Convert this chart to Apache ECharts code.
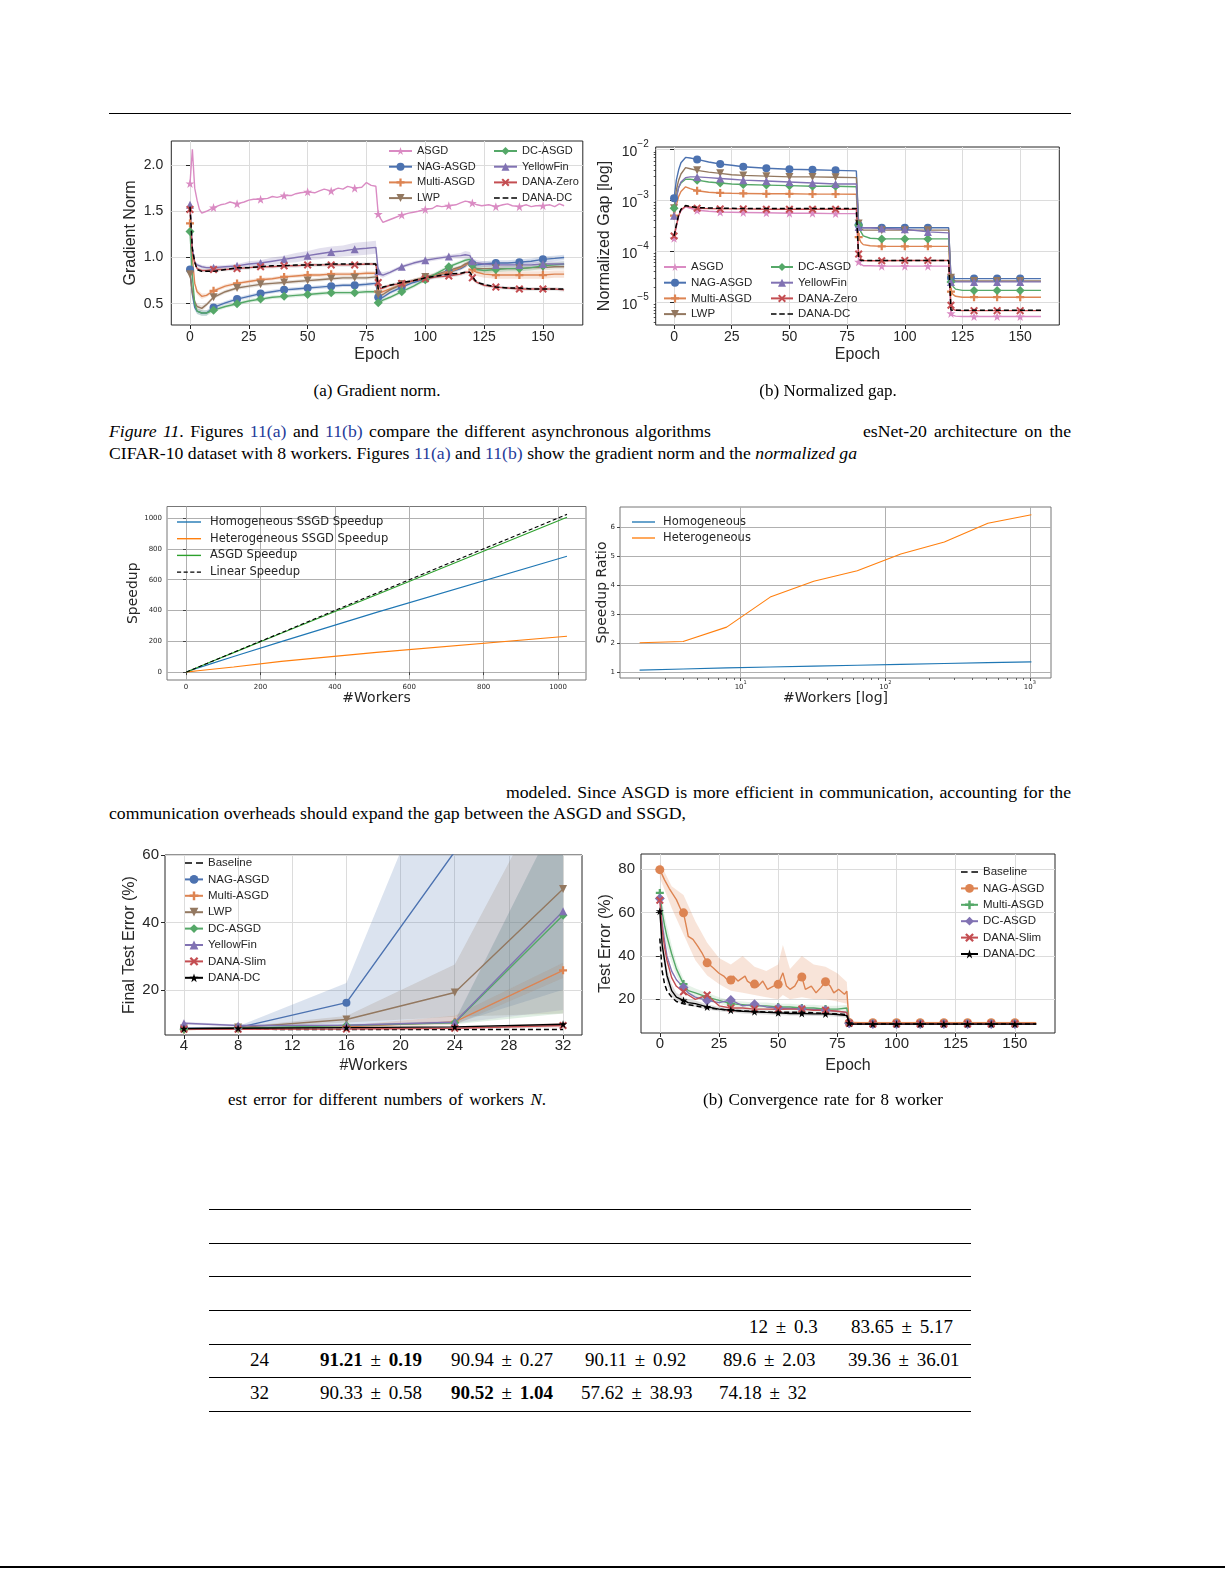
<!DOCTYPE html>
<html>
<head>
<meta charset="utf-8">
<title>Figure page</title>
<script src="https://cdn.jsdelivr.net/npm/echarts@6.0.0/dist/echarts.min.js"></script>
<style>
  html,body{margin:0;padding:0;background:#fff;}
  body{position:relative;width:1225px;height:1585px;overflow:hidden;font-family:"Liberation Serif","Times New Roman",serif;color:#000;}
  .t{position:absolute;font-size:17px;line-height:20px;white-space:nowrap;}
  .b{font-size:17.7px;}
  .j{text-align:justify;text-align-last:justify;}
  .ctr{transform:translateX(-50%);}
  .lnk{color:#1f3b9a;}
  .rule{position:absolute;background:#000;}
  .ch{position:absolute;}
  .tb{position:absolute;font-size:19px;line-height:22px;white-space:nowrap;}
  .pm{padding:0 3px;}
</style>
</head>
<body>
<div class="rule" style="left:109px;top:113px;width:962px;height:1px"></div>

<div id="cA" class="ch" style="left:100px;top:130px;width:500px;height:245px"></div>
<div id="cB" class="ch" style="left:590px;top:130px;width:490px;height:245px"></div>

<div class="t ctr" style="left:377px;top:381px;">(a) Gradient norm.</div>
<div class="t ctr" style="left:828px;top:381px;">(b) Normalized gap.</div>

<div class="t b j" style="left:109px;top:421px;width:602px;"><i>Figure 11</i>. Figures <span class="lnk">11(a)</span> and <span class="lnk">11(b)</span> compare the different asynchronous algorithms</div>
<div class="t b j" style="left:863px;top:421px;width:208px;">esNet-20 architecture on the</div>
<div class="t b j" style="left:109px;top:443px;width:748px;">CIFAR-10 dataset with 8 workers. Figures <span class="lnk">11(a)</span> and <span class="lnk">11(b)</span> show the gradient norm and the <i>normalized ga</i></div>

<div id="cC" class="ch" style="left:110px;top:500px;width:480px;height:215px"></div>
<div id="cD" class="ch" style="left:590px;top:500px;width:480px;height:215px"></div>

<div class="t b j" style="left:506px;top:782px;width:565px;">modeled. Since ASGD is more efficient in communication, accounting for the</div>
<div class="t b j" style="left:109px;top:803px;width:577px;">communication overheads should expand the gap between the ASGD and SSGD,</div>

<div id="cE" class="ch" style="left:100px;top:840px;width:500px;height:245px"></div>
<div id="cF" class="ch" style="left:590px;top:840px;width:490px;height:245px"></div>

<div class="t j" style="left:228px;top:1090px;width:318px;">est error for different numbers of workers <i>N</i>.</div>
<div class="t j" style="left:703px;top:1090px;width:240px;">(b) Convergence rate for 8 worker</div>

<div class="rule" style="left:209px;top:1209px;width:762px;height:1px"></div>
<div class="rule" style="left:209px;top:1243px;width:762px;height:1px"></div>
<div class="rule" style="left:209px;top:1276px;width:762px;height:1px"></div>
<div class="rule" style="left:209px;top:1310px;width:762px;height:1px"></div>
<div class="rule" style="left:209px;top:1344px;width:762px;height:1px"></div>
<div class="rule" style="left:209px;top:1377px;width:762px;height:1px"></div>
<div class="rule" style="left:209px;top:1411px;width:762px;height:1px"></div>

<div class="tb" style="left:749px;top:1316px;">12 <span class="pm">±</span> 0.3</div>
<div class="tb" style="left:851px;top:1316px;">83.65 <span class="pm">±</span> 5.17</div>

<div class="tb" style="left:250px;top:1349px;">24</div>
<div class="tb" style="left:320px;top:1349px;"><b>91.21</b> <span class="pm">±</span> <b>0.19</b></div>
<div class="tb" style="left:451px;top:1349px;">90.94 <span class="pm">±</span> 0.27</div>
<div class="tb" style="left:585px;top:1349px;">90.11 <span class="pm">±</span> 0.92</div>
<div class="tb" style="left:723px;top:1349px;">89.6 <span class="pm">±</span> 2.03</div>
<div class="tb" style="left:848px;top:1349px;">39.36 <span class="pm">±</span> 36.01</div>

<div class="tb" style="left:250px;top:1382px;">32</div>
<div class="tb" style="left:320px;top:1382px;">90.33 <span class="pm">±</span> 0.58</div>
<div class="tb" style="left:451px;top:1382px;"><b>90.52</b> <span class="pm">±</span> <b>1.04</b></div>
<div class="tb" style="left:581px;top:1382px;">57.62 <span class="pm">±</span> 38.93</div>
<div class="tb" style="left:719px;top:1382px;">74.18 <span class="pm">±</span> 32</div>

<div class="rule" style="left:0px;top:1566px;width:1225px;height:2px"></div>

<script>
// ================= DATA =================
// ---- (a) Gradient norm ----
const EPOCH_TICKS = [0, 25, 50, 75, 100, 125, 150];
const GN_TICKS = [0.5, 1.0, 1.5, 2.0];
const EP_A = [0,1,2,3,5,7,10,15,20,25,30,35,40,45,50,55,60,65,70,75,79,80,81,82,85,90,95,100,105,110,115,117,119,120,121,122,125,130,135,140,145,150,155,159];
const NAG_A = [0.87,0.60,0.46,0.42,0.40,0.40,0.46,0.51,0.55,0.58,0.61,0.63,0.65,0.66,0.67,0.68,0.69,0.70,0.70,0.71,0.72,0.57,0.56,0.57,0.62,0.68,0.73,0.77,0.80,0.84,0.88,0.91,0.96,0.93,0.92,0.92,0.93,0.94,0.94,0.95,0.96,0.98,0.99,1.00];
const MULTI_A = [1.37,1.00,0.72,0.63,0.58,0.59,0.64,0.69,0.72,0.74,0.76,0.77,0.79,0.80,0.81,0.81,0.82,0.82,0.82,0.83,0.83,0.63,0.62,0.63,0.66,0.71,0.75,0.78,0.81,0.84,0.89,0.92,0.94,0.87,0.85,0.84,0.82,0.81,0.81,0.81,0.81,0.81,0.82,0.82];
const LWP_A = [0.82,0.62,0.52,0.47,0.45,0.49,0.57,0.63,0.67,0.69,0.71,0.72,0.73,0.74,0.75,0.76,0.77,0.78,0.78,0.78,0.79,0.60,0.59,0.60,0.65,0.71,0.75,0.79,0.82,0.86,0.90,0.93,0.95,0.90,0.89,0.88,0.88,0.88,0.88,0.88,0.89,0.89,0.90,0.90];
const DC_A = [1.28,0.80,0.50,0.42,0.40,0.40,0.43,0.47,0.50,0.53,0.55,0.57,0.58,0.59,0.60,0.61,0.62,0.62,0.62,0.63,0.63,0.51,0.52,0.54,0.57,0.63,0.69,0.76,0.83,0.90,0.95,0.97,0.98,0.92,0.89,0.87,0.86,0.87,0.88,0.88,0.89,0.91,0.92,0.93];
const YF_A = [1.57,1.10,0.95,0.92,0.90,0.89,0.89,0.90,0.91,0.93,0.94,0.96,0.98,1.00,1.02,1.04,1.06,1.07,1.09,1.10,1.11,0.85,0.82,0.81,0.84,0.90,0.94,0.97,0.99,1.01,1.02,1.03,1.02,0.96,0.95,0.94,0.93,0.92,0.92,0.92,0.92,0.93,0.93,0.93];
const DANAZ_A = [1.52,1.05,0.95,0.88,0.86,0.86,0.87,0.87,0.88,0.89,0.90,0.90,0.91,0.91,0.92,0.92,0.92,0.92,0.92,0.93,0.93,0.73,0.66,0.67,0.70,0.72,0.75,0.77,0.79,0.80,0.82,0.84,0.84,0.78,0.75,0.73,0.70,0.68,0.67,0.66,0.66,0.66,0.66,0.65];
const DANADC_A = [1.55,1.10,0.95,0.87,0.85,0.85,0.85,0.87,0.89,0.89,0.90,0.91,0.91,0.92,0.92,0.92,0.93,0.93,0.93,0.93,0.93,0.66,0.67,0.68,0.70,0.73,0.75,0.78,0.80,0.82,0.83,0.84,0.84,0.80,0.76,0.73,0.71,0.68,0.67,0.67,0.66,0.66,0.66,0.66];
const YF_A_HW = [0.03,0.03,0.02,0.02,0.02,0.02,0.02,0.02,0.02,0.03,0.03,0.04,0.04,0.05,0.05,0.06,0.06,0.06,0.07,0.07,0.07,0.03,0.03,0.03,0.02,0.02,0.02,0.02,0.02,0.02,0.03,0.04,0.04,0.03,0.03,0.03,0.03,0.03,0.03,0.03,0.03,0.03,0.03,0.03];
const NAG_A_HW = [0.03,0.03,0.03,0.03,0.03,0.03,0.02,0.02,0.02,0.02,0.02,0.02,0.02,0.02,0.02,0.02,0.02,0.02,0.02,0.02,0.02,0.02,0.02,0.02,0.02,0.02,0.02,0.02,0.02,0.02,0.02,0.02,0.02,0.03,0.03,0.03,0.03,0.03,0.03,0.03,0.03,0.03,0.03,0.03];
const MULTI_A_HW = [0.03,0.03,0.03,0.03,0.03,0.02,0.02,0.02,0.02,0.02,0.02,0.02,0.02,0.02,0.02,0.02,0.02,0.02,0.02,0.02,0.02,0.02,0.02,0.02,0.02,0.02,0.02,0.02,0.02,0.02,0.02,0.03,0.03,0.04,0.04,0.04,0.04,0.04,0.04,0.04,0.04,0.04,0.04,0.04];
const LWP_A_HW = [0.03,0.03,0.03,0.03,0.03,0.02,0.02,0.02,0.02,0.02,0.02,0.02,0.02,0.02,0.02,0.02,0.02,0.02,0.02,0.02,0.02,0.02,0.02,0.02,0.02,0.02,0.02,0.02,0.02,0.02,0.02,0.02,0.02,0.03,0.03,0.03,0.03,0.03,0.03,0.03,0.03,0.03,0.03,0.03];
const DANA_A_HW = [0.02,0.02,0.02,0.02,0.02,0.02,0.02,0.02,0.02,0.02,0.02,0.02,0.02,0.02,0.02,0.02,0.02,0.02,0.02,0.02,0.02,0.02,0.02,0.02,0.02,0.02,0.02,0.02,0.02,0.02,0.02,0.02,0.02,0.02,0.02,0.02,0.02,0.02,0.02,0.02,0.02,0.02,0.02,0.02];
const EP_ASGD = [0,1,2,3,4,5,7,10,13,15,17,20,23,25,27,30,33,35,37,40,43,45,47,50,53,55,57,60,63,65,67,70,73,75,77,79,80,81,82,84,87,90,93,95,97,100,103,105,107,110,113,115,117,119,120,121,122,124,127,130,133,135,137,140,143,145,147,150,153,155,157,159];
const ASGD_A = [1.80,2.17,1.75,1.62,1.52,1.48,1.50,1.54,1.57,1.58,1.60,1.58,1.60,1.62,1.63,1.63,1.64,1.66,1.65,1.67,1.67,1.69,1.70,1.71,1.70,1.72,1.74,1.72,1.75,1.74,1.77,1.75,1.76,1.81,1.78,1.77,1.47,1.42,1.38,1.40,1.43,1.46,1.48,1.49,1.50,1.52,1.53,1.56,1.55,1.56,1.57,1.59,1.61,1.60,1.59,1.58,1.57,1.56,1.57,1.55,1.57,1.58,1.56,1.55,1.57,1.55,1.56,1.56,1.57,1.55,1.58,1.56];

// ---- (b) Normalized gap ----
const GAP_TICKS = [1e-5, 1e-4, 1e-3, 1e-2];
const GAP_MINOR = [4e-6,5e-6,6e-6,7e-6,8e-6,9e-6,2e-5,3e-5,4e-5,5e-5,6e-5,7e-5,8e-5,9e-5,2e-4,3e-4,4e-4,5e-4,6e-4,7e-4,8e-4,9e-4,2e-3,3e-3,4e-3,5e-3,6e-3,7e-3,8e-3,9e-3];
const EP_B = [0,1,2,3,5,7,10,15,20,25,30,40,50,60,70,79,80,81,82,85,90,100,110,119,120,121,122,125,130,140,150,159];
const ASGD_B = [1.8e-4,3.0e-4,5.0e-4,6.3e-4,7.5e-4,7.0e-4,6.4e-4,6.1e-4,5.9e-4,5.85e-4,5.8e-4,5.7e-4,5.6e-4,5.6e-4,5.5e-4,5.5e-4,6.2e-5,5.5e-5,5.2e-5,5.2e-5,5.1e-5,5.1e-5,5.1e-5,5.1e-5,6.0e-6,5.5e-6,5.3e-6,5.2e-6,5.2e-6,5.2e-6,5.2e-6,5.2e-6];
const NAG_B = [1.1e-3,2.5e-3,4.0e-3,5.5e-3,7.0e-3,6.8e-3,6.4e-3,5.7e-3,5.2e-3,4.9e-3,4.6e-3,4.3e-3,4.1e-3,4.0e-3,3.9e-3,3.8e-3,3.3e-4,3.0e-4,2.9e-4,2.9e-4,2.9e-4,2.9e-4,2.9e-4,2.9e-4,3.0e-5,2.9e-5,2.9e-5,2.9e-5,2.9e-5,2.9e-5,2.9e-5,2.9e-5];
const MULTI_B = [5.0e-4,8.0e-4,1.2e-3,1.5e-3,1.85e-3,1.7e-3,1.55e-3,1.45e-3,1.4e-3,1.38e-3,1.37e-3,1.35e-3,1.35e-3,1.33e-3,1.33e-3,1.32e-3,1.9e-4,1.5e-4,1.35e-4,1.28e-4,1.25e-4,1.25e-4,1.25e-4,1.25e-4,1.6e-5,1.4e-5,1.3e-5,1.25e-5,1.25e-5,1.25e-5,1.25e-5,1.25e-5];
const LWP_B = [7.0e-4,1.6e-3,2.5e-3,3.3e-3,4.4e-3,4.2e-3,3.9e-3,3.6e-3,3.4e-3,3.2e-3,3.1e-3,3.0e-3,2.9e-3,2.9e-3,2.85e-3,2.8e-3,3.5e-4,2.8e-4,2.6e-4,2.6e-4,2.6e-4,2.6e-4,2.6e-4,2.6e-4,3.0e-5,2.7e-5,2.6e-5,2.6e-5,2.6e-5,2.6e-5,2.6e-5,2.6e-5];
const DC_B = [7.0e-4,1.2e-3,1.8e-3,2.2e-3,2.6e-3,2.6e-3,2.5e-3,2.3e-3,2.2e-3,2.1e-3,2.05e-3,2.0e-3,1.95e-3,1.9e-3,1.9e-3,1.85e-3,3.3e-4,2.4e-4,2.0e-4,1.8e-4,1.75e-4,1.75e-4,1.75e-4,1.75e-4,2.5e-5,2.0e-5,1.8e-5,1.7e-5,1.7e-5,1.7e-5,1.7e-5,1.7e-5];
const YF_B = [5.0e-4,1.1e-3,1.8e-3,2.3e-3,2.8e-3,2.9e-3,2.9e-3,2.8e-3,2.7e-3,2.6e-3,2.5e-3,2.4e-3,2.3e-3,2.2e-3,2.1e-3,2.1e-3,3.0e-4,2.9e-4,2.9e-4,2.9e-4,2.8e-4,2.7e-4,2.4e-4,2.3e-4,2.5e-5,2.5e-5,2.5e-5,2.5e-5,2.5e-5,2.5e-5,2.5e-5,2.5e-5];
const DANAZ_B = [2.0e-4,3.2e-4,5.0e-4,6.5e-4,7.7e-4,7.4e-4,7.0e-4,6.9e-4,6.8e-4,6.8e-4,6.8e-4,6.7e-4,6.7e-4,6.7e-4,6.7e-4,6.7e-4,8.8e-5,7.0e-5,6.6e-5,6.5e-5,6.5e-5,6.6e-5,6.6e-5,6.6e-5,8.7e-6,7.2e-6,6.9e-6,6.8e-6,6.8e-6,6.8e-6,6.8e-6,6.8e-6];
const DANADC_B = [2.0e-4,3.3e-4,5.2e-4,6.7e-4,7.9e-4,7.6e-4,7.2e-4,7.1e-4,7.0e-4,7.0e-4,6.9e-4,6.9e-4,6.9e-4,6.9e-4,6.9e-4,6.9e-4,7.0e-5,6.6e-5,6.6e-5,6.6e-5,6.6e-5,6.6e-5,6.6e-5,6.6e-5,7.0e-6,6.9e-6,6.9e-6,6.9e-6,6.9e-6,6.9e-6,6.9e-6,6.9e-6];

// ---- Speedup (linear) ----
const SPEED_TICKS = [0, 200, 400, 600, 800, 1000];
const WORKERS = [1,2,4,8,16,32,64,128,256,512,1024];
const HOMO_SPEED = [1,1.89,3.64,7.0,13.7,26.7,52,101.6,198,388,752];
const HETERO_SPEED = [1,1,2,3.1,5,9,17,33,70,128,233];
const ASGD_SPEED = [1,2,4,8,16,31.8,63.5,126.5,252,503,1005];
const LINEAR_SPEED = [1,2,4,8,16,32,64,128,256,512,1024];

// ---- Speedup ratio (log x) ----
const RATIO_TICKS_Y = [1,2,3,4,5,6];
const RATIO_TICKS_X = [10, 100, 1000];
const RATIO_MINOR_X = [2,3,4,5,6,7,8,9,20,30,40,50,60,70,80,90,200,300,400,500,600,700,800,900];
const RATIO_WORKERS = [2,4,8,16,32,64,128,256,512,1024];
const HOMO_RATIO = [1.06,1.10,1.14,1.17,1.20,1.23,1.26,1.29,1.32,1.345];
const HETERO_RATIO = [2.01,2.05,2.55,3.59,4.14,4.5,5.08,5.5,6.15,6.44];

// ---- Final test error vs workers ----
const WORKER_TICKS = [4,8,12,16,20,24,28,32];
const ERR_TICKS = [20,40,60];
const EP_E = [4,8,16,24,32];
const BASE_E = [8.3,8.3,8.2,8.2,8.2];
const NAG_E = [8.6,8.8,16.2,61,85];
const MULTI_E = [8.2,8.5,9.0,10.5,25.8];
const LWP_E = [8.5,8.8,11.2,19.2,49.9];
const DC_E = [8.3,8.6,9.4,10.2,42.1];
const YF_E = [10.1,9.4,9.5,10.4,43.3];
const DANAS_E = [8.3,8.3,8.4,8.6,9.4];
const DANADC_E = [8.5,8.6,8.8,9.0,9.8];
const NAG_E_LO = [8.3,8.5,9.5,10,20];   const NAG_E_HI = [8.9,9.2,22,100,130];
const MULTI_E_LO = [8.0,8.3,8.7,9.6,23.5]; const MULTI_E_HI = [8.4,8.7,9.4,12.3,28];
const LWP_E_LO = [8.3,8.6,10.3,12,13];  const LWP_E_HI = [8.8,9.0,12.2,27.5,88];
const DC_E_LO = [8.1,8.4,9.1,9.8,13];   const DC_E_HI = [8.5,8.8,9.7,10.6,75];
const YF_E_LO = [9.7,9.1,9.2,10.0,14];  const YF_E_HI = [10.5,9.7,9.8,10.8,75];
const DANAS_E_LO = [8.1,8.1,8.2,8.3,8.8]; const DANAS_E_HI = [8.5,8.5,8.6,8.9,10.2];

// ---- Convergence for 8 workers ----
const TEST_TICKS = [20,40,60,80];
const EP_F_NAG = [0,2,4,7,9,10,11.5,12,14,16,18,20,22.5,25,27,29,30,31,33,36,37,39,40,41.5,43.5,45.5,48,50,52,53.5,55,57,59,60,61.5,64,66,68,70,72,73.5,75.5,78,79,80,81,85,90,100,110,120,130,140,150,159];
const NAG_F = [79.7,75,71,65.9,61,59.8,52,49,47.6,44.5,41,36.8,34.5,32,30.7,28.4,28.9,30.7,28.4,30.7,28.4,26.9,27,26,28.4,24.6,26.1,26.9,32.2,26.1,24.6,26.1,30,30.3,24.6,26.1,23,25.4,28.1,26.1,23,24.6,22.3,23.8,9.3,9.3,9.2,9.2,9.2,9.2,9.2,9.2,9.2,9.2,9.2];
const EP_F_BAND = [0,5,10,15,20,25,30,35,40,45,50,52,55,60,65,70,75,79,80,159];
const NAG_F_LO = [76,62,50,38,31,27,24,23,22,21,20,22,20,21,20,20,19,18,8.9,8.9];
const NAG_F_HI = [83,72,68,56,46,39,36,40,35,33,36,45,34,40,36,35,32,28,9.7,9.7];
const EP_F = [0,1,2,3,5,7,10,12,15,20,25,30,35,40,45,50,55,60,65,70,75,79,80,81,90,100,110,120,130,140,150,159];
const MULTI_F = [69,60,54,49,41,34,27,24,23,21,19.5,18,17.5,17,17,16.5,16.5,16,16,15.5,15.5,16,9,8.8,8.8,8.8,8.8,8.8,8.8,8.8,8.8,8.8];
const DC_F = [66.4,55,47,40,33,29,25.4,23,21,19.5,18.5,19.7,17,17.7,16.5,16,15.8,15.5,15.3,15,14.5,14,9,8.7,8.7,8.7,8.7,8.7,8.7,8.7,8.7,8.7];
const DANAS_F = [65.6,52,44,38,30,26,23.5,22,20,22,17,16,16,15.5,15.5,15.4,15.5,15.5,15,15,14.5,14,9,8.7,8.7,8.7,8.7,8.7,8.7,8.7,8.7,8.7];
const DANADC_F = [60.6,45,38,31,24,21,19.5,18.5,18,16.5,15.5,15,14.5,14.3,14,13.8,13.5,13.5,13.3,13.3,13,12.5,9,8.6,8.6,8.6,8.6,8.6,8.6,8.6,8.6,8.6];
const BASE_F = [48,33,27,24,21,19,18,17.5,17,16,15.5,15,14.7,14.3,14.2,14,14,14,13.8,13.5,13.3,13,8.8,8.6,8.6,8.6,8.6,8.6,8.6,8.6,8.6,8.6];
const DANADC_F_HW = [3,4,4,3.5,3,2,1.5,1.5,1.5,1.2,1,1,1,1,1,1,1,1,1,1,1,1,0.3,0.3,0.3,0.3,0.3,0.3,0.3,0.3,0.3,0.3];
const MULTI_F_HW = [4,5,5,5,4,3,2.5,2.5,2,2,1.5,1.5,1.5,1.5,1.5,1.5,1.5,1.5,1.5,1.5,1.5,1.5,0.3,0.3,0.3,0.3,0.3,0.3,0.3,0.3,0.3,0.3];

// ================= STYLE =================
const FS = '"Liberation Sans", Arial, Helvetica, sans-serif';
const FD = '"DejaVu Sans", Verdana, sans-serif';
const DARK = '#262626';
const C = {blue:'#4C72B0', orange:'#DD8452', green:'#55A868', red:'#C44E52', purple:'#8172B3', brown:'#937860', pink:'#DA8BC3', black:'#000000'};
const T10 = {blue:'#1f77b4', orange:'#ff7f0e', green:'#2ca02c'};
const SYM = {
  star: 'path://M50,0 L61.8,35.1 L98.5,35.1 L68.8,56.8 L79.4,91.6 L50,70 L20.6,91.6 L31.2,56.8 L1.5,35.1 L38.2,35.1 Z',
  plus: 'path://M36,0 H64 V36 H100 V64 H64 V100 H36 V64 H0 V36 H36 Z',
  cross: 'path://M18,0 L50,32 L82,0 L100,18 L68,50 L100,82 L82,100 L50,68 L18,100 L0,82 L32,50 L0,18 Z',
  down: 'path://M0,0 L100,0 L50,90 Z',
  up: 'triangle', circle: 'circle', diamond: 'diamond'
};
const DASH3 = 'path://M0,0 H6 V1.6 H0 Z M9,0 H15 V1.6 H9 Z M18,0 H24 V1.6 H18 Z';
const DASH2 = 'path://M0,0 H7 V1.6 H0 Z M11,0 H18 V1.6 H11 Z';
const DASH4 = 'path://M0,0 H4 V1.4 H0 Z M6.4,0 H10.4 V1.4 H6.4 Z M12.8,0 H16.8 V1.4 H12.8 Z M19.2,0 H23.2 V1.4 H19.2 Z';
const SOLID = 'path://M0,0 H24 V1.4 H0 Z';

function pairs(xs, ys) { return xs.map((x, i) => [x, ys[i]]); }
function every10(size) { return function (v) { return (Math.abs(v[0] % 10) < 1e-9) ? size : 0; }; }
function expStr(v) { return String(Math.round(Math.log10(v))).replace('-', '\u2212'); }
function rgba(hex, a) {
  const n = parseInt(hex.slice(1), 16);
  return 'rgba(' + ((n >> 16) & 255) + ',' + ((n >> 8) & 255) + ',' + (n & 255) + ',' + a + ')';
}

function mkAxis(o) {
  const ax = {
    type: o.type || 'value', min: o.min, max: o.max,
    axisLine: { show: false },
    axisTick: { show: true, inside: false, length: o.tl || 4, lineStyle: { color: o.tc || DARK, width: 1 }, customValues: o.ticks },
    axisLabel: { show: true, customValues: o.ticks, margin: o.margin, color: DARK, fontFamily: o.font, fontSize: o.fs,
                 formatter: o.fmt || function (v) { return String(v); } },
    splitLine: { show: true, lineStyle: { color: o.gc || '#dcdcdc', width: 1 } },
    minorTick: { show: false }, minorSplitLine: { show: false },
    name: o.name, nameLocation: 'middle', nameGap: o.nameGap, nameMoveOverlap: false,
    nameTextStyle: { fontFamily: o.font, fontSize: o.nameFs, color: DARK }
  };
  if (o.type === 'log') ax.logBase = 10;
  if (o.rich) ax.axisLabel.rich = o.rich;
  return ax;
}
function minorAxis(o) {
  return { type: 'log', logBase: 10, min: o.min, max: o.max, position: o.pos,
    axisLine: { show: false }, axisLabel: { show: false }, splitLine: { show: false },
    axisTick: { show: true, length: 2, lineStyle: { color: o.tc || DARK, width: 0.8 }, customValues: o.ticks } };
}
function ln(name, xs, ys, color, sym, size, extra) {
  return Object.assign({
    type: 'line', name: name, data: pairs(xs, ys), symbol: sym, symbolSize: size, showSymbol: true,
    lineStyle: { color: color, width: 1.4 }, itemStyle: { color: color },
    clip: true, z: 3, silent: true, emphasis: { disabled: true }, animation: false
  }, extra || {});
}
// shaded band drawn as one polygon through the axes' scales (api.coord)
function band(xs, lo, hi, color, op) {
  return {
    type: 'custom', silent: true, clip: true, z: 1, animation: false,
    data: [[xs[0], lo[0]]], encode: { x: 0, y: 1 },
    renderItem: function (params, api) {
      const top = xs.map((x, i) => api.coord([x, hi[i]]));
      const bot = xs.map((x, i) => api.coord([x, lo[i]])).reverse();
      const cs = params.coordSys;
      return {
        type: 'polygon', shape: { points: top.concat(bot) }, silent: true,
        style: { fill: rgba(color, op), stroke: null },
        clipPath: { type: 'rect', shape: { x: cs.x, y: cs.y, width: cs.width, height: cs.height } }
      };
    }
  };
}
function bandHW(xs, ys, hw, color, op) {
  return band(xs, ys.map((y, i) => y - hw[i]), ys.map((y, i) => y + hw[i]), color, op);
}
function leg(left, top, items, font, fs, lh, gap, iw, ih, pad) {
  return { show: true, orient: 'vertical', left: left, top: top, padding: 0, itemGap: gap, itemWidth: iw, itemHeight: ih,
    selectedMode: false, data: items,
    textStyle: { fontFamily: font, fontSize: fs, color: DARK, lineHeight: lh, padding: pad || 0 } };
}
function grid(l, t, w, h, bc) {
  return { left: l, top: t, width: w, height: h, show: true, borderColor: bc || DARK, borderWidth: 1,
           backgroundColor: 'transparent', containLabel: false, outerBoundsMode: 'none' };
}

// ================= (a) =================
const chA = echarts.init(document.getElementById('cA'));
chA.setOption({
  animation: false,
  grid: grid(71.3, 11, 411.5, 184),
  xAxis: mkAxis({ min: -7.95, max: 166.95, ticks: EPOCH_TICKS, font: FS, fs: 14, margin: 5, name: 'Epoch', nameGap: 22, nameFs: 16 }),
  yAxis: mkAxis({ min: 0.27, max: 2.26, ticks: GN_TICKS, fmt: v => v.toFixed(1), font: FS, fs: 14, margin: 8, name: 'Gradient Norm', nameGap: 33, nameFs: 16 }),
  legend: [
    leg(288, 15, ['ASGD', 'NAG-ASGD', 'Multi-ASGD', 'LWP'], FS, 11, 12, 3.7, 23, 10),
    leg(393, 15, ['DC-ASGD', 'YellowFin', 'DANA-Zero', { name: 'DANA-DC', icon: DASH3 }], FS, 11, 12, 3.7, 23, 10)
  ],
  series: [
    bandHW(EP_A, NAG_A, NAG_A_HW, C.blue, 0.22),
    bandHW(EP_A, MULTI_A, MULTI_A_HW, C.orange, 0.22),
    bandHW(EP_A, LWP_A, LWP_A_HW, C.brown, 0.2),
    bandHW(EP_A, DC_A, NAG_A_HW, C.green, 0.2),
    bandHW(EP_A, YF_A, YF_A_HW, C.purple, 0.22),
    bandHW(EP_A, DANAZ_A, DANA_A_HW, '#808080', 0.2),
    ln('ASGD', EP_ASGD, ASGD_A, C.pink, SYM.star, every10(9)),
    ln('NAG-ASGD', EP_A, NAG_A, C.blue, SYM.circle, every10(8)),
    ln('Multi-ASGD', EP_A, MULTI_A, C.orange, SYM.plus, every10(8)),
    ln('LWP', EP_A, LWP_A, C.brown, SYM.down, every10(8)),
    ln('DC-ASGD', EP_A, DC_A, C.green, SYM.diamond, every10(9)),
    ln('YellowFin', EP_A, YF_A, C.purple, SYM.up, every10(8)),
    ln('DANA-Zero', EP_A, DANAZ_A, C.red, SYM.cross, every10(8)),
    ln('DANA-DC', EP_A, DANADC_A, C.black, 'none', 0, { lineStyle: { color: '#000', width: 1.5, type: [5, 3] }, z: 4 })
  ]
});

// ================= (b) =================
const RICH14 = {
  b: { fontSize: 14, fontFamily: FS, color: DARK, lineHeight: 20, verticalAlign: 'bottom' },
  s: { fontSize: 10, fontFamily: FS, color: DARK, lineHeight: 10, verticalAlign: 'top' }
};
const chB = echarts.init(document.getElementById('cB'));
chB.setOption({
  animation: false,
  grid: grid(65.7, 17, 403.6, 178),
  xAxis: mkAxis({ min: -7.95, max: 166.95, ticks: EPOCH_TICKS, font: FS, fs: 14, margin: 5, name: 'Epoch', nameGap: 22, nameFs: 16 }),
  yAxis: [
    mkAxis({ type: 'log', min: Math.pow(10, -5.45), max: Math.pow(10, -1.95), ticks: GAP_TICKS, font: FS, fs: 14, margin: 7,
             fmt: v => '{b|10}{s|' + expStr(v) + '}', rich: RICH14, name: 'Normalized Gap [log]', nameGap: 43, nameFs: 16 }),
    minorAxis({ min: Math.pow(10, -5.45), max: Math.pow(10, -1.95), ticks: GAP_MINOR, pos: 'left' })
  ],
  legend: [
    leg(73, 131, ['ASGD', 'NAG-ASGD', 'Multi-ASGD', 'LWP'], FS, 11.5, 12, 3.7, 22, 10),
    leg(180, 131, ['DC-ASGD', 'YellowFin', 'DANA-Zero', { name: 'DANA-DC', icon: DASH3 }], FS, 11.5, 12, 3.7, 22, 10)
  ],
  series: [
    ln('ASGD', EP_B, ASGD_B, C.pink, SYM.star, every10(9)),
    ln('NAG-ASGD', EP_B, NAG_B, C.blue, SYM.circle, every10(8)),
    ln('Multi-ASGD', EP_B, MULTI_B, C.orange, SYM.plus, every10(8)),
    ln('LWP', EP_B, LWP_B, C.brown, SYM.down, every10(8)),
    ln('DC-ASGD', EP_B, DC_B, C.green, SYM.diamond, every10(9)),
    ln('YellowFin', EP_B, YF_B, C.purple, SYM.up, every10(8)),
    ln('DANA-Zero', EP_B, DANAZ_B, C.red, SYM.cross, every10(8)),
    ln('DANA-DC', EP_B, DANADC_B, C.black, 'none', 0, { lineStyle: { color: '#000', width: 1.5, type: [5, 3] }, z: 4 })
  ]
});

// ================= Speedup =================
const chC = echarts.init(document.getElementById('cC'));
chC.setOption({
  animation: false,
  grid: grid(57, 6.5, 419, 173.5, '#777'),
  xAxis: mkAxis({ min: -51.15, max: 1075.15, ticks: SPEED_TICKS, font: FD, fs: 7, margin: 3.5, tl: 3, tc: '#444', gc: '#b0b0b0', name: '#Workers', nameGap: 11, nameFs: 14 }),
  yAxis: mkAxis({ min: -51.15, max: 1075.15, ticks: SPEED_TICKS, font: FD, fs: 7, margin: 5, tl: 3, tc: '#444', gc: '#b0b0b0', name: 'Speedup', nameGap: 27, nameFs: 14 }),
  legend: leg(67, 15.5, [
    { name: 'Homogeneous SSGD Speedup', icon: SOLID },
    { name: 'Heterogeneous SSGD Speedup', icon: SOLID },
    { name: 'ASGD Speedup', icon: SOLID },
    { name: 'Linear Speedup', icon: DASH4 }
  ], FD, 11.5, 13, 3.7, 24, 10, [0, 0, 0, 4]),
  series: [
    ln('Homogeneous SSGD Speedup', WORKERS, HOMO_SPEED, T10.blue, 'none', 0, { lineStyle: { color: T10.blue, width: 1.1 } }),
    ln('Heterogeneous SSGD Speedup', WORKERS, HETERO_SPEED, T10.orange, 'none', 0, { lineStyle: { color: T10.orange, width: 1.1 } }),
    ln('ASGD Speedup', WORKERS, ASGD_SPEED, T10.green, 'none', 0, { lineStyle: { color: T10.green, width: 1.1 } }),
    ln('Linear Speedup', WORKERS, LINEAR_SPEED, '#000', 'none', 0, { lineStyle: { color: '#000', width: 1.1, type: [4, 2.5] }, z: 4 })
  ]
});

// ================= Speedup ratio =================
const RICH7 = {
  b: { fontSize: 7, fontFamily: FD, color: DARK, lineHeight: 10, verticalAlign: 'bottom' },
  s: { fontSize: 5, fontFamily: FD, color: DARK, lineHeight: 5, verticalAlign: 'top' }
};
const chD = echarts.init(document.getElementById('cD'));
chD.setOption({
  animation: false,
  grid: grid(30, 7, 431, 171, '#777'),
  xAxis: [
    mkAxis({ type: 'log', min: 1.464, max: 1399, ticks: RATIO_TICKS_X, font: FD, fs: 7, margin: 2.5, tl: 3, tc: '#444', gc: '#b0b0b0',
             fmt: v => '{b|10}{s|' + expStr(v) + '}', rich: RICH7, name: '#Workers [log]', nameGap: 13, nameFs: 14 }),
    minorAxis({ min: 1.464, max: 1399, ticks: RATIO_MINOR_X, pos: 'bottom', tc: '#444' })
  ],
  yAxis: mkAxis({ min: 0.788, max: 6.71, ticks: RATIO_TICKS_Y, font: FD, fs: 7, margin: 5, tl: 3, tc: '#444', gc: '#b0b0b0', name: 'Speedup Ratio', nameGap: 11, nameFs: 14 }),
  legend: leg(42, 15.5, [
    { name: 'Homogeneous', icon: SOLID },
    { name: 'Heterogeneous', icon: SOLID }
  ], FD, 11.5, 13, 3, 23, 10, [0, 0, 0, 3]),
  series: [
    ln('Homogeneous', RATIO_WORKERS, HOMO_RATIO, T10.blue, 'none', 0, { lineStyle: { color: T10.blue, width: 1.1 } }),
    ln('Heterogeneous', RATIO_WORKERS, HETERO_RATIO, T10.orange, 'none', 0, { lineStyle: { color: T10.orange, width: 1.1 } })
  ]
});

// ================= Final test error =================
const chE = echarts.init(document.getElementById('cE'));
chE.setOption({
  animation: false,
  grid: grid(65, 15, 417, 180),
  xAxis: mkAxis({ min: 2.6, max: 33.4, ticks: WORKER_TICKS, font: FS, fs: 15, margin: 3.5, name: '#Workers', nameGap: 23, nameFs: 16 }),
  yAxis: mkAxis({ min: 6.6, max: 60, ticks: ERR_TICKS, font: FS, fs: 15, margin: 6, name: 'Final Test Error (%)', nameGap: 27, nameFs: 16 }),
  legend: leg(84, 17, [
    { name: 'Baseline', icon: DASH2 }, 'NAG-ASGD', 'Multi-ASGD', 'LWP', 'DC-ASGD', 'YellowFin', 'DANA-Slim', 'DANA-DC'
  ], FS, 11.5, 12, 4.4, 18, 11),
  series: [
    band(EP_E, NAG_E_LO, NAG_E_HI, C.blue, 0.2),
    band(EP_E, MULTI_E_LO, MULTI_E_HI, C.orange, 0.2),
    band(EP_E, LWP_E_LO, LWP_E_HI, C.brown, 0.2),
    band(EP_E, DC_E_LO, DC_E_HI, C.green, 0.18),
    band(EP_E, YF_E_LO, YF_E_HI, C.purple, 0.18),
    band(EP_E, DANAS_E_LO, DANAS_E_HI, C.red, 0.2),
    ln('Baseline', EP_E, BASE_E, '#000', 'none', 0, { lineStyle: { color: '#000', width: 1.5, type: [5, 3] } }),
    ln('NAG-ASGD', EP_E, NAG_E, C.blue, SYM.circle, 8),
    ln('Multi-ASGD', EP_E, MULTI_E, C.orange, SYM.plus, 8),
    ln('LWP', EP_E, LWP_E, C.brown, SYM.down, 8),
    ln('DC-ASGD', EP_E, DC_E, C.green, SYM.diamond, 9),
    ln('YellowFin', EP_E, YF_E, C.purple, SYM.up, 8),
    ln('DANA-Slim', EP_E, DANAS_E, C.red, SYM.cross, 8),
    ln('DANA-DC', EP_E, DANADC_E, '#000', SYM.star, 8)
  ]
});

// ================= Convergence =================
const chF = echarts.init(document.getElementById('cF'));
chF.setOption({
  animation: false,
  grid: grid(51, 14, 414, 179),
  xAxis: mkAxis({ min: -7.95, max: 166.95, ticks: EPOCH_TICKS, font: FS, fs: 15, margin: 3.5, name: 'Epoch', nameGap: 25, nameFs: 16 }),
  yAxis: mkAxis({ min: 4.5, max: 86.9, ticks: TEST_TICKS, font: FS, fs: 15, margin: 6, name: 'Test Error (%)', nameGap: 27, nameFs: 16 }),
  legend: leg(370, 26, [
    { name: 'Baseline', icon: DASH2 }, 'NAG-ASGD', 'Multi-ASGD', 'DC-ASGD', 'DANA-Slim', 'DANA-DC'
  ], FS, 11.5, 12, 4.4, 17, 11),
  series: [
    band(EP_F_BAND, NAG_F_LO, NAG_F_HI, C.orange, 0.22),
    bandHW(EP_F, MULTI_F, MULTI_F_HW, C.green, 0.15),
    bandHW(EP_F, DANADC_F, DANADC_F_HW, '#777777', 0.25),
    ln('NAG-ASGD', EP_F_NAG, NAG_F, C.orange, SYM.circle, every10(9)),
    ln('Multi-ASGD', EP_F, MULTI_F, C.green, SYM.plus, every10(8)),
    ln('DC-ASGD', EP_F, DC_F, C.purple, SYM.diamond, every10(10)),
    ln('DANA-Slim', EP_F, DANAS_F, C.red, SYM.cross, every10(8)),
    ln('Baseline', EP_F, BASE_F, '#000', 'none', 0, { lineStyle: { color: '#000', width: 1.5, type: [5, 3] }, z: 4 }),
    ln('DANA-DC', EP_F, DANADC_F, '#000', SYM.star, every10(8), { z: 4 })
  ]
});
</script>
</body>
</html>
